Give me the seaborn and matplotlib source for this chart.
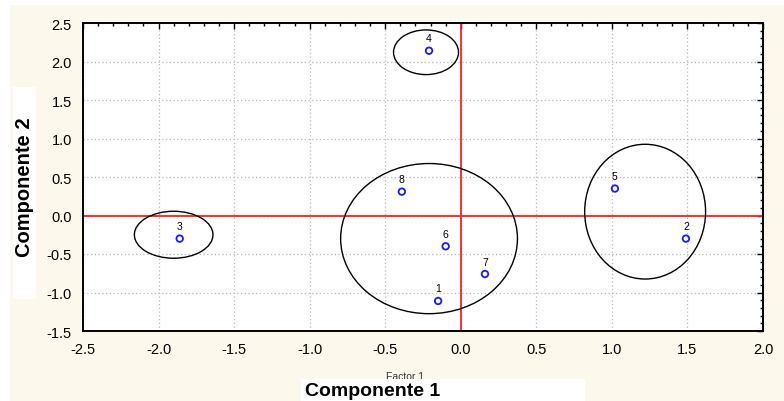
import numpy as np
import pandas as pd
import matplotlib
matplotlib.use("Agg")
import matplotlib.pyplot as plt
import seaborn as sns
from matplotlib.patches import Ellipse, Rectangle
from matplotlib.ticker import MultipleLocator, FormatStrFormatter

# observations (scores on the first two components)
labels = ['1', '2', '3', '4', '5', '6', '7', '8']
comp1 = [-0.15, 1.49, -1.86, -0.21, 1.02, -0.10, 0.16, -0.39]
comp2 = [-1.11, -0.30, -0.30, 2.14, 0.35, -0.40, -0.76, 0.31]

# groups drawn as ellipses: centre x, centre y, width, height
grp_x = [-0.23, -1.90, -0.21, 1.22]
grp_y = [2.12, -0.25, -0.30, 0.05]
grp_w = [0.43, 0.52, 1.17, 0.80]
grp_h = [0.58, 0.61, 1.95, 1.75]

df = pd.DataFrame({'lab': labels, 'c1': comp1, 'c2': comp2})

sns.set_style("white")
plt.rcParams['font.family'] = ['Liberation Sans', 'DejaVu Sans']

fig = plt.figure(figsize=(7.84, 4.02), dpi=100, facecolor='white')
# cream panel behind everything
fig.patches.append(Rectangle((10 / 784, 0), 774 / 784, 396 / 402, transform=fig.transFigure,
                             facecolor='#fdf8ec', edgecolor='none', zorder=0))

ax = fig.add_axes([83 / 784, 1 - 332 / 402, 680 / 784, 308 / 402])
ax.set_zorder(1)
ax.set_facecolor('white')

ax.axhline(0, color='#ff2020', lw=1.3, zorder=2)
ax.axvline(0, color='#ff2020', lw=1.3, zorder=2)

for x, y, w, h in zip(grp_x, grp_y, grp_w, grp_h):
    ax.add_patch(Ellipse((x, y), w, h, fill=False, edgecolor='black', lw=1.0, zorder=3))

sns.scatterplot(data=df, x='c1', y='c2', ax=ax, marker='o', s=22,
                facecolor='none', edgecolor='#1a1aff', linewidth=1.3, zorder=4)

for _, r in df.iterrows():
    ax.annotate(r['lab'], (r['c1'], r['c2']), xytext=(0, 9), textcoords='offset points',
                ha='center', va='center', fontsize=7.5, color='black', zorder=5)

ax.set_xlim(-2.5, 2.0)
ax.set_ylim(-1.5, 2.5)
ax.xaxis.set_major_locator(MultipleLocator(0.5))
ax.yaxis.set_major_locator(MultipleLocator(0.5))
ax.xaxis.set_minor_locator(MultipleLocator(0.1))
ax.yaxis.set_minor_locator(MultipleLocator(0.1))
ax.xaxis.set_major_formatter(FormatStrFormatter('%.1f'))
ax.yaxis.set_major_formatter(FormatStrFormatter('%.1f'))
ax.tick_params(which='both', direction='in', top=True, right=True, colors='black',
               labelsize=10.5, width=1.0)
ax.tick_params(which='major', length=4.5, pad=8)
ax.tick_params(which='minor', length=2.5)
ax.grid(True, which='major', linestyle=(0, (1, 2)), color='#b8b8b8', lw=0.9, zorder=1)
ax.set_axisbelow(True)
for s in ax.spines.values():
    s.set_color('black')
    s.set_linewidth(1.4)
ax.set_xlabel('')
ax.set_ylabel('')

# original "Factor 1" label partly hidden behind the white label box
fig.text(405 / 784, 1 - 377.5 / 402, 'Factor 1', ha='center', va='center', fontsize=7.5,
         color='#333333', zorder=1.5)
fig.patches.append(Rectangle((301 / 784, 0), 284 / 784, 22 / 402, transform=fig.transFigure,
                             facecolor='white', edgecolor='none', zorder=2))
fig.text(373 / 784, 1 - 392 / 402, 'Componente 1', ha='center', va='center',
         fontsize=14, fontweight='bold', color='black', zorder=3)

fig.patches.append(Rectangle((13 / 784, 1 - 300 / 402), 23 / 784, 212 / 402, transform=fig.transFigure,
                             facecolor='white', edgecolor='none', zorder=2))
fig.text(25 / 784, 1 - 187 / 402, 'Componente 2', ha='center', va='center', rotation=90,
         fontsize=14.5, fontweight='bold', color='black', zorder=3)

fig.savefig('out.png', dpi=100, facecolor=fig.get_facecolor())
